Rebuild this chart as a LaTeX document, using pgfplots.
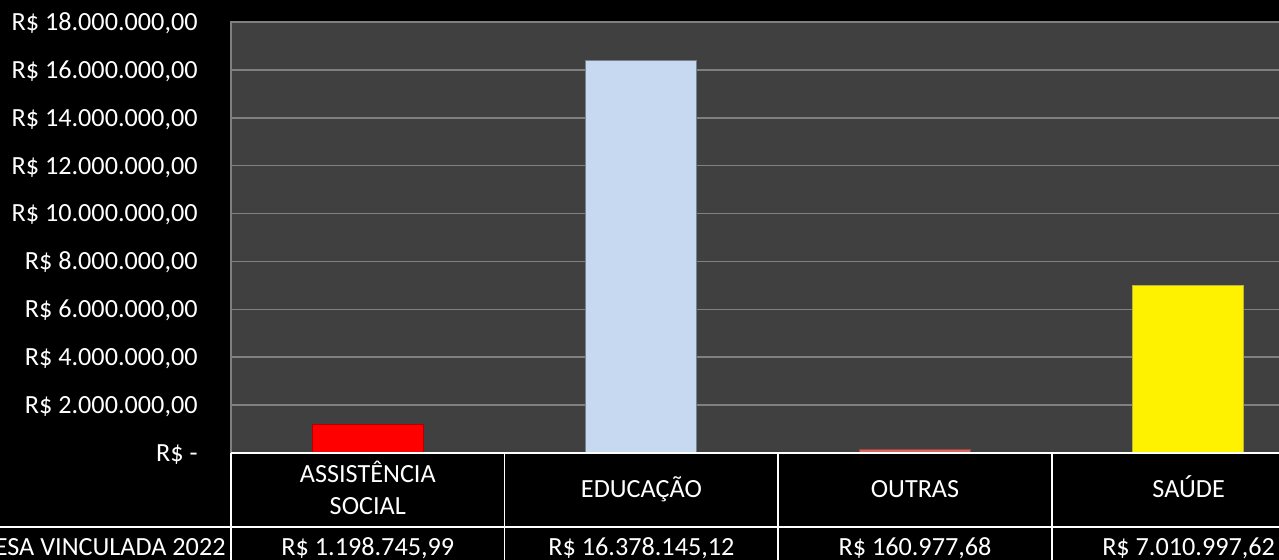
\documentclass[border=0pt]{standalone}
\usepackage{pgfplots}
\pgfplotsset{compat=1.18}
\usepackage{fontspec}
\setmainfont{Carlito}
\definecolor{plotbg}{RGB}{64,64,64}
\definecolor{gridc}{RGB}{128,128,128}
\definecolor{barblue}{RGB}{198,217,241}
\definecolor{barpink}{RGB}{217,102,100}
\begin{document}
\begin{tikzpicture}[x=1pt,y=1pt]
\fill[black] (0,0) rectangle (639.5,280);
\begin{axis}[at={(115.5pt,53.5pt)}, anchor=south west, scale only axis,
  width=547pt, height=215.5pt,
  xmin=-0.5, xmax=3.5, ymin=0, ymax=18000000,
  axis background/.style={fill=plotbg},
  axis line style={gridc, line width=0.75pt},
  ytick={0,2000000,4000000,6000000,8000000,10000000,12000000,14000000,16000000,18000000},
  yticklabels={{R\$ -\hspace{6pt}},{R\$ 2.000.000,00},{R\$ 4.000.000,00},{R\$ 6.000.000,00},{R\$ 8.000.000,00},{R\$ 10.000.000,00},{R\$ 12.000.000,00},{R\$ 14.000.000,00},{R\$ 16.000.000,00},{R\$ 18.000.000,00}},
  scaled y ticks=false,
  ymajorgrids, grid style={gridc, line width=0.75pt},
  major tick length=0pt, xtick=\empty,
  yticklabel style={anchor=base east, inner sep=0pt, xshift=-16.5pt, yshift=-4.2pt,
    font=\fontsize{13.1}{15}\selectfont, text=white},
  ybar, bar width=55.5pt, bar shift=0pt,
]
\addplot[fill=red, draw=red!70!black, line width=0.6pt] coordinates {(0,1198745.99)};
\addplot[fill=barblue, draw=barblue!60!black, line width=0.6pt] coordinates {(1,16378145.12)};
\addplot[fill=barpink, draw=barpink!70!black, line width=0.6pt] coordinates {(2,160977.68)};
\addplot[fill=yellow, draw=yellow!70!black, line width=0.6pt] coordinates {(3,7010997.62)};
\end{axis}
\begin{scope}[white, line width=0.75pt]
\draw (115.5,53.5) -- (700,53.5);
\draw (0,16.5) -- (700,16.5);
\foreach \xx in {115.5,252.3,389.1,525.9,662.7} \draw (\xx,53.5) -- (\xx,-20);
\end{scope}
\begin{scope}[every node/.style={text=white, inner sep=0pt, font=\fontsize{13.1}{15}\selectfont}]
\node[anchor=base] at (183.9,38.85) {ASSISTÊNCIA};
\node[anchor=base] at (183.9,22.5) {SOCIAL};
\node[anchor=base] at (320.7,31.25) {EDUCAÇÃO};
\node[anchor=base] at (457.5,31.25) {OUTRAS};
\node[anchor=base] at (594.3,31.25) {SAÚDE};
\node[anchor=base] at (183.9,2) {R\$ 1.198.745,99};
\node[anchor=base] at (320.7,2) {R\$ 16.378.145,12};
\node[anchor=base] at (457.5,2) {R\$ 160.977,68};
\node[anchor=base] at (594.3,2) {R\$ 7.010.997,62};
\node[anchor=base east] at (113,2) {DESPESA VINCULADA 2022};
\end{scope}
\pgfresetboundingbox
\path[use as bounding box] (0,0) rectangle (639.5,280);
\end{tikzpicture}
\end{document}
